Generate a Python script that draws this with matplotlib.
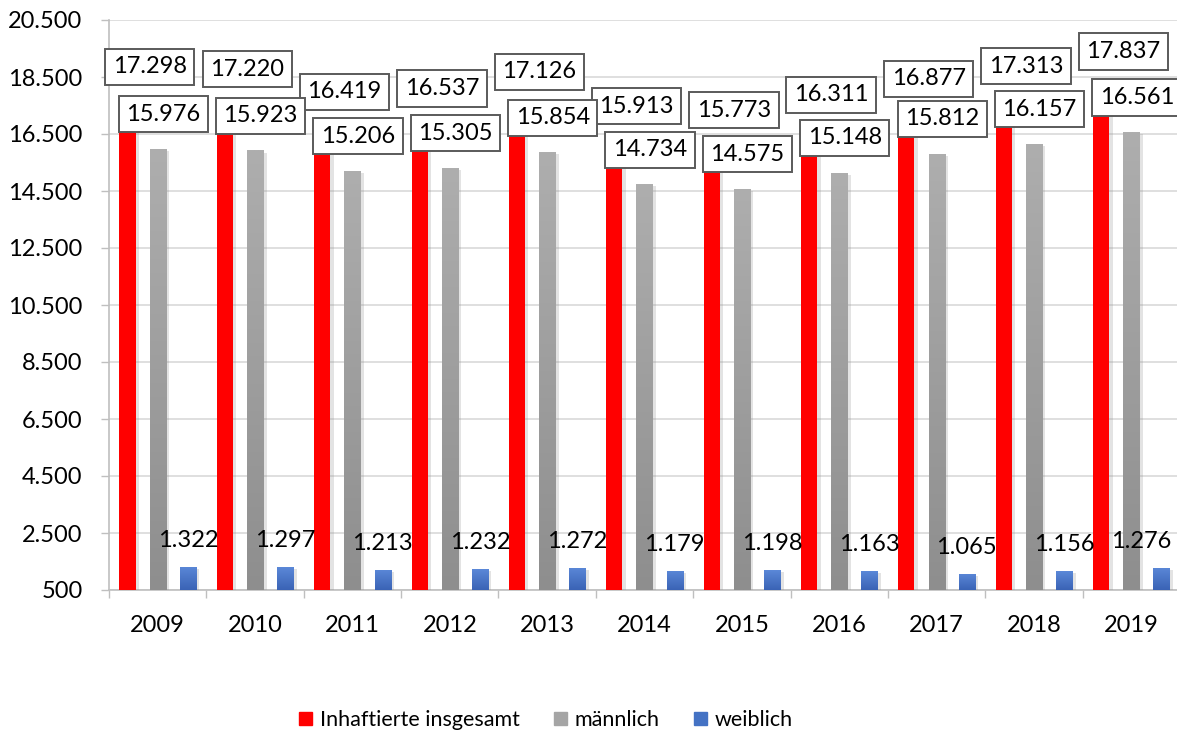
import numpy as np
import matplotlib
matplotlib.use("Agg")
import matplotlib.pyplot as plt
import matplotlib.patheffects as pe
from matplotlib.colors import LinearSegmentedColormap
from matplotlib.patches import Patch

plt.rcParams['font.family'] = ['Lato', 'DejaVu Sans']

jahre = ['2009', '2010', '2011', '2012', '2013', '2014', '2015', '2016', '2017', '2018', '2019']
insgesamt = [17298, 17220, 16419, 16537, 17126, 15913, 15773, 16311, 16877, 17313, 17837]
maennlich = [15976, 15923, 15206, 15305, 15854, 14734, 14575, 15148, 15812, 16157, 16561]
weiblich = [1322, 1297, 1213, 1232, 1272, 1179, 1198, 1163, 1065, 1156, 1276]
y_ticks = [500, 2500, 4500, 6500, 8500, 10500, 12500, 14500, 16500, 18500, 20500]

BASIS = 500
FS = 17


def fmt(v):
    return f"{v:,}".replace(',', '.')


def verlauf(ax, bars, oben, unten):
    cmap = LinearSegmentedColormap.from_list('v', [unten, oben])
    for b in bars:
        x0, y0 = b.get_xy()
        img = ax.imshow(np.linspace(0, 1, 256).reshape(-1, 1), cmap=cmap, origin='lower',
                        extent=[x0, x0 + b.get_width(), y0, y0 + b.get_height()],
                        aspect='auto', zorder=b.get_zorder() + 0.1)
        img.set_clip_path(b)


fig = plt.figure(figsize=(11.77, 7.35), dpi=100)
ax = fig.add_axes([109 / 1177, 1 - 590 / 735, (1180 - 109) / 1177, (590 - 20) / 735])

x = np.arange(len(jahre))
breite = 0.165
abstand = 0.31
schatten = [pe.SimplePatchShadow(offset=(2.5, -1.5), shadow_rgbFace='#909090', alpha=0.25), pe.Normal()]

b1 = ax.bar(x - abstand, np.array(insgesamt) - BASIS, breite, bottom=BASIS, color='#FF0000', zorder=3,
            path_effects=schatten)
b2 = ax.bar(x, np.array(maennlich) - BASIS, breite, bottom=BASIS, color='#A5A5A5', zorder=3,
            path_effects=schatten)
b3 = ax.bar(x + abstand, np.array(weiblich) - BASIS, breite, bottom=BASIS, color='#4472C4', zorder=3,
            path_effects=schatten)
verlauf(ax, b2, '#AEAEAE', '#8E8E8E')
verlauf(ax, b3, '#5B88D8', '#3A63B5')

box = dict(boxstyle='square,pad=0.32', fc='white', ec='#5A5A5A', lw=1.4)
letzte = len(jahre) - 1
for i in range(len(jahre)):
    ax.annotate(fmt(insgesamt[i]), xy=(x[i] - abstand, insgesamt[i]), xytext=(16, 32),
                textcoords='offset points', ha='center', va='center', fontsize=FS,
                bbox=box, zorder=6)
    ax.annotate(fmt(maennlich[i]), xy=(x[i], maennlich[i]), xytext=(4, 25),
                textcoords='offset points', ha='center', va='center', fontsize=FS,
                bbox=box, zorder=7)
    # letzte Beschriftung nach links schieben, damit sie nicht abgeschnitten wird
    ax.annotate(fmt(weiblich[i]), xy=(x[i] + abstand, weiblich[i]),
                xytext=(7, 19) if i == letzte else (0, 19),
                textcoords='offset points', ha='right' if i == letzte else 'center',
                va='center', fontsize=FS, zorder=6)

ax.set_xlim(-0.5, len(jahre) - 0.5)
ax.set_ylim(500, 20500)
ax.set_yticks(y_ticks)
ax.set_yticklabels([fmt(v) for v in y_ticks], fontsize=FS)
ax.set_xticks(x)
ax.set_xticklabels(jahre, fontsize=FS)
ax.set_xticks(np.arange(len(jahre) + 1) - 0.5, minor=True)
ax.tick_params(axis='x', which='major', length=0, pad=18)
ax.tick_params(axis='x', which='minor', length=6, color='#BFBFBF', width=1)
ax.tick_params(axis='y', length=6, color='#BFBFBF', width=1, pad=13)

ax.grid(axis='y', color='#D9D9D9', lw=1.2, zorder=0)
ax.set_axisbelow(True)
for s in ['top', 'right']:
    ax.spines[s].set_visible(False)
ax.spines['left'].set_color('#BFBFBF')
ax.spines['bottom'].set_color('#BFBFBF')
ax.spines['left'].set_linewidth(1.2)
ax.spines['bottom'].set_linewidth(1.2)

handles = [Patch(color='#FF0000'), Patch(color='#A5A5A5'), Patch(color='#4472C4')]
fig.legend(handles, ['Inhaftierte insgesamt', 'männlich', 'weiblich'], loc='center',
           bbox_to_anchor=(546 / 1177, 1 - 720 / 735), ncol=3, frameon=False, fontsize=15.5,
           handlelength=0.6, handleheight=0.6, handletextpad=0.35, columnspacing=1.6)

fig.savefig('out.png', dpi=100)
